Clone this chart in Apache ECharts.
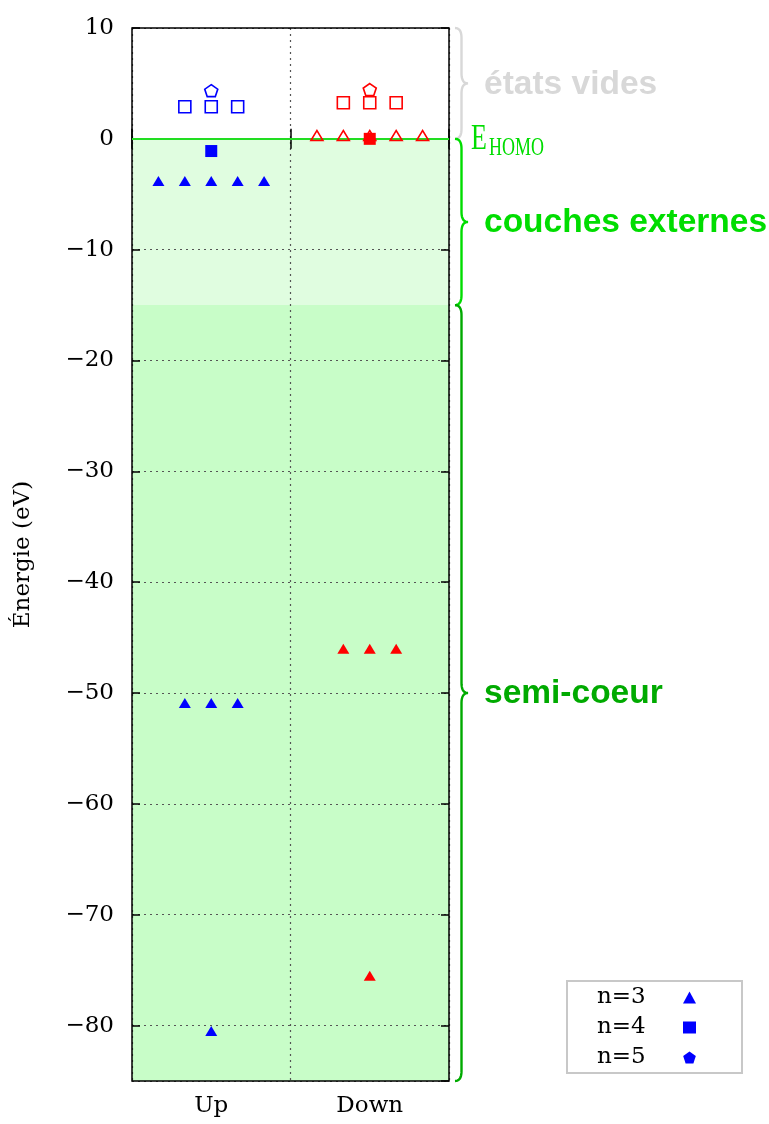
<!DOCTYPE html>
<html>
<head>
<meta charset="utf-8">
<script src="https://cdn.jsdelivr.net/npm/echarts@6/dist/echarts.min.js"></script>
<style>
  html, body { margin: 0; padding: 0; background: #fff; }
  #main { width: 769px; height: 1124px; }
</style>
</head>
<body>
<div id="main"></div>
<script>
// spin channels (x categories)
var spins = ['Up', 'Down'];

// levels: [slot, energy in eV], slot = horizontal offset in sixths of a column
var upN3Occ = [[-2, -3.8], [-1, -3.8], [0, -3.8], [1, -3.8], [2, -3.8],
               [-1, -50.9], [0, -50.9], [1, -50.9], [0, -80.5]];
var upN4Occ = [[0, -1.1]];
var upN4Empty = [[-1, 2.9], [0, 2.9], [1, 2.9]];
var upN5Empty = [[0, 4.35]];

var downN3Occ = [[-1, -46.0], [0, -46.0], [1, -46.0], [0, -75.5]];
var downN3Empty = [[-2, 0.3], [-1, 0.3], [0, 0.3], [1, 0.3], [2, 0.3]];
var downN4Occ = [[0, 0]];
var downN4Empty = [[-1, 3.25], [0, 3.25], [1, 3.25]];
var downN5Empty = [[0, 4.45]];

// energy bands annotated on the right
var bandEdges = [10, 0, -15, -85];
var bandLabels = ['états vides', 'couches externes', 'semi-coeur'];
var homoEnergy = 0;

var pentagon = 'path://M0,-10L9.511,-3.09L5.878,8.09L-5.878,8.09L-9.511,-3.09Z';
var serif = 'DejaVu Serif';
var minus = function (v) { return String(v).replace('-', '\u2212'); };

function toXY(pts, col) {
    return pts.map(function (p) { return [col + 0.5 + p[0] / 6, p[1]]; });
}

function levels(name, pts, col, symbol, size, color, filled) {
    return {
        name: name,
        type: 'scatter',
        xAxisIndex: 2,
        yAxisIndex: 0,
        data: toXY(pts, col),
        symbol: symbol,
        symbolSize: size,
        itemStyle: filled
            ? { color: color, borderWidth: 0, opacity: 1 }
            : { color: 'rgba(255,255,255,0)', borderColor: color, borderWidth: 1.6, opacity: 1 },
        z: 6,
        silent: true
    };
}

var myChart = echarts.init(document.getElementById('main'));

var gridDots = { color: '#555', width: 1.2, type: [2, 4] };
var tickStyle = { color: '#000', width: 1.5 };

var option = {
    animation: false,
    backgroundColor: '#fff',
    grid: {
        left: 132, right: 320, top: 28, bottom: 43,
        show: true,
        backgroundColor: 'transparent',
        borderColor: '#000',
        borderWidth: 1.5,
        z: 4
    },
    legend: {
        data: [
            { name: 'n=3', icon: 'triangle', itemStyle: { color: '#0000ff', borderWidth: 0 } },
            { name: 'n=4', icon: 'rect', itemStyle: { color: '#0000ff', borderWidth: 0 } },
            { name: 'n=5', icon: pentagon, itemStyle: { color: '#0000ff', borderWidth: 0 } }
        ],
        orient: 'vertical',
        align: 'right',
        right: 27,
        bottom: 51,
        padding: [5, 46, 4, 30],
        itemGap: 7,
        itemWidth: 13,
        itemHeight: 12,
        selectedMode: false,
        borderColor: '#c8c8c8',
        borderWidth: 2,
        backgroundColor: '#fff',
        formatter: '{t|{name}}',
        textStyle: {
            fontFamily: serif, fontSize: 23, color: '#000',
            rich: { t: { fontFamily: serif, fontSize: 23, color: '#000', width: 81, height: 24, align: 'left' } }
        }
    },
    xAxis: [
        {
            type: 'category',
            data: spins,
            position: 'bottom',
            z: 3,
            axisLine: { show: false },
            axisTick: { show: true, inside: true, length: 10, lineStyle: tickStyle },
            axisLabel: { fontFamily: serif, fontSize: 23, color: '#000', margin: 14 },
            splitLine: { show: true, lineStyle: gridDots }
        },
        {
            type: 'category',
            data: spins,
            position: 'top',
            z: 3,
            axisLine: { show: false },
            axisTick: { show: true, inside: true, length: 10, lineStyle: tickStyle },
            axisLabel: { show: false },
            splitLine: { show: false }
        },
        {
            type: 'value',
            min: 0, max: 2,
            show: false
        }
    ],
    yAxis: [
        {
            type: 'value',
            min: -85, max: 10,
            splitNumber: 10,
            z: 3,
            name: 'Énergie (eV)',
            nameLocation: 'middle',
            nameGap: 97,
            nameTextStyle: { fontFamily: serif, fontSize: 23, color: '#000' },
            axisLine: { show: false },
            axisTick: { show: true, inside: true, length: 8, lineStyle: tickStyle },
            axisLabel: {
                fontFamily: serif, fontSize: 23, color: '#000', margin: 18,
                showMinLabel: false,
                formatter: minus
            },
            splitLine: { show: true, lineStyle: gridDots }
        },
        {
            type: 'value',
            min: -85, max: 10,
            splitNumber: 10,
            position: 'right',
            z: 3,
            axisLine: { show: false },
            axisTick: { show: true, inside: true, length: 8, lineStyle: tickStyle },
            axisLabel: { show: false },
            splitLine: { show: false }
        }
    ],
    series: [
        {
            name: 'bands',
            type: 'scatter',
            xAxisIndex: 2,
            yAxisIndex: 0,
            data: [],
            z: 1,
            silent: true,
            markArea: {
                silent: true,
                label: { show: false },
                data: [
                    [{ yAxis: bandEdges[1], itemStyle: { color: '#e0fde0', opacity: 1 } }, { yAxis: bandEdges[2] }],
                    [{ yAxis: bandEdges[2], itemStyle: { color: '#c8fdc8', opacity: 1 } }, { yAxis: bandEdges[3] }]
                ]
            }
        },
        {
            name: 'homo',
            type: 'scatter',
            xAxisIndex: 2,
            yAxisIndex: 0,
            data: [],
            z: 5,
            silent: true,
            markLine: {
                silent: true,
                symbol: 'none',
                label: { show: false },
                lineStyle: { color: '#22dd22', width: 2, type: 'solid' },
                data: [{ yAxis: homoEnergy }]
            }
        },
        levels('n=3', upN3Occ, 0, 'triangle', [12, 10], '#0000ff', true),
        levels('n=4', upN4Occ, 0, 'rect', 12, '#0000ff', true),
        levels('n=4', upN4Empty, 0, 'rect', 12, '#0000ff', false),
        levels('n=5', upN5Empty, 0, pentagon, [13, 12], '#0000ff', false),
        levels('n=3', downN3Empty, 1, 'triangle', [12, 10], '#ff0000', false),
        levels('n=3', downN3Occ, 1, 'triangle', [12, 10], '#ff0000', true),
        levels('n=4', downN4Occ, 1, 'rect', 12, '#ff0000', true),
        levels('n=4', downN4Empty, 1, 'rect', 12, '#ff0000', false),
        levels('n=5', downN5Empty, 1, pentagon, [13, 12], '#ff0000', false)
    ]
};

myChart.setOption(option);

// curly braces and band labels on the right of the frame
function bracePoints(x, y1, y2, d) {
    var ym = (y1 + y2) / 2;
    var q = Math.min(10, (y2 - y1) / 5);
    var pts = [];
    function quad(p0, p1, p2) {
        for (var i = 0; i <= 10; i++) {
            var t = i / 10;
            pts.push([
                (1 - t) * (1 - t) * p0[0] + 2 * (1 - t) * t * p1[0] + t * t * p2[0],
                (1 - t) * (1 - t) * p0[1] + 2 * (1 - t) * t * p1[1] + t * t * p2[1]
            ]);
        }
    }
    quad([x, y1], [x + d, y1], [x + d, y1 + q]);
    quad([x + d, ym - q], [x + d, ym], [x + 2 * d, ym]);
    quad([x + 2 * d, ym], [x + d, ym], [x + d, ym + q]);
    quad([x + d, y2 - q], [x + d, y2], [x, y2]);
    return pts;
}

var braceColors = ['#d8d8d8', '#00dd00', '#00aa00'];
var xRight = myChart.convertToPixel({ xAxisIndex: 2 }, 2);
var yPix = bandEdges.map(function (v) { return myChart.convertToPixel({ yAxisIndex: 0 }, v); });
var graphics = [];
for (var i = 0; i < bandLabels.length; i++) {
    var yTop = yPix[i], yBot = yPix[i + 1];
    graphics.push({
        type: 'polyline',
        silent: true,
        shape: { points: bracePoints(xRight + 6, yTop, yBot, 6.5) },
        style: { stroke: braceColors[i], lineWidth: 2.4, fill: null }
    });
    graphics.push({
        type: 'text',
        silent: true,
        x: xRight + 35,
        y: (yTop + yBot) / 2 + 1,
        style: {
            text: bandLabels[i],
            fontFamily: 'Liberation Sans',
            fontWeight: 'bold',
            fontSize: 33.5,
            fill: braceColors[i],
            verticalAlign: 'middle'
        }
    });
}
var y0 = myChart.convertToPixel({ yAxisIndex: 0 }, homoEnergy);
graphics.push({
    type: 'text', silent: true,
    x: xRight + 22, y: y0 + 1, scaleY: 1.4,
    style: { text: 'E', fontFamily: 'Liberation Serif', fontSize: 26, fill: '#00dd00', verticalAlign: 'middle' }
});
graphics.push({
    type: 'text', silent: true,
    x: xRight + 40, y: y0 + 9.5, scaleY: 1.4,
    style: { text: 'HOMO', fontFamily: 'Liberation Serif', fontSize: 18, fill: '#00dd00', verticalAlign: 'middle' }
});
myChart.setOption({ graphic: graphics });
</script>
</body>
</html>
